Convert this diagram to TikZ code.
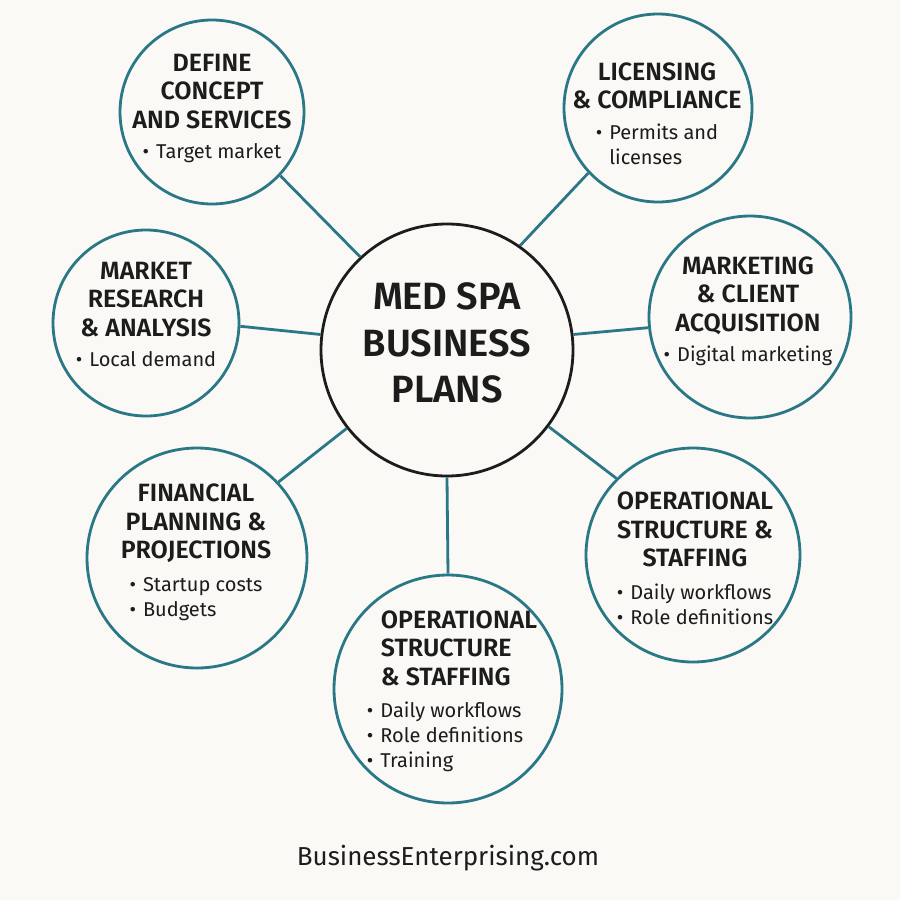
\documentclass[tikz,border=0pt]{standalone}
\usepackage{fontspec}
\setmainfont{Fira Sans}[BoldFont={Fira Sans SemiBold}]
\usetikzlibrary{positioning}

\definecolor{spateal}{HTML}{2A7886}
\definecolor{paper}{HTML}{FAF9F5}
\definecolor{ink}{HTML}{1C1C1C}

% bullet points under a heading
\newcommand{\pts}[1]{{\mdseries\fontsize{20}{25}\selectfont
  \begin{tabular}[t]{@{}l@{\hspace{7pt}}l@{}}#1\end{tabular}}}
\newcommand{\ind}{\hspace*{14pt}}

\begin{document}
\begin{tikzpicture}[x=1pt,y=-1pt,
  hub/.style={
    circle,
    draw=ink,
    line width=2.8pt,
    fill=paper,
    inner sep=0pt,
    minimum size=252pt
  },
  topic/.style={
    circle,
    draw=spateal,
    line width=2.8pt,
    fill=paper,
    inner sep=0pt
  },
  topictext/.style={
    align=center,
    text=ink,
    inner sep=0pt,
    font=\bfseries\fontsize{25}{28.5}\selectfont
  },
  link/.style={draw=spateal,line width=2.8pt}]
  \fill[paper] (0,0) rectangle (900,900);
  \useasboundingbox (0,0) rectangle (900,900);

  % centre
  \node [hub] (hub) at (447,350) {};
  \node [topictext,font=\bfseries\fontsize{38}{46.5}\selectfont] (hub-txt) at (447,343)
    {MED SPA\\BUSINESS\\PLANS};

  % topics
  \node [topic,minimum size=184pt] (define) at (212,112) {};
  \node [topic,minimum size=188pt] (licensing) at (658,108) {};
  \node [topic,minimum size=186pt] (market) at (146,323) {};
  \node [topic,minimum size=202pt] (marketing) at (750,317) {};
  \node [topic,minimum size=220pt] (financial) at (197,558) {};
  \node [topic,minimum size=214pt] (staffing) at (693,555) {};
  \node [topic,minimum size=228pt] (staffing2) at (448,689) {};

  \node [topictext] (define-txt) at (212,110)
    {DEFINE\\CONCEPT\\AND SERVICES\\[2pt]\pts{\textbullet & Target market}};
  \node [topictext] (licensing-txt) at (657,117)
    {LICENSING\\\& COMPLIANCE\\[2pt]\pts{\textbullet & Permits and\\ & licenses}};
  \node [topictext] (market-txt) at (146,318)
    {MARKET\\RESEARCH\\\& ANALYSIS\\[2pt]\pts{\textbullet & Local demand}};
  \node [topictext] (marketing-txt) at (748,313)
    {MARKETING\\\& CLIENT\\ACQUISITION\\[2pt]\pts{\textbullet & Digital marketing}};
  \node [topictext] (financial-txt) at (196,554)
    {FINANCIAL\\PLANNING \&\\PROJECTIONS\\[4pt]\pts{\textbullet & Startup costs\\ \textbullet & Budgets}};
  \node [topictext] (staffing-txt) at (695,562)
    {OPERATIONAL\\STRUCTURE \&\\STAFFING\\[4pt]\pts{\textbullet & Daily workflows\\ \textbullet & Role definitions}};
  \node [topictext,align=left] (staffing2-txt) at (452,693)
    {\ind OPERATIONAL\\\ind STRUCTURE\\\ind\& STAFFING\\[4pt]\pts{\textbullet & Daily workflows\\ \textbullet & Role definitions\\ \textbullet & Training}};

  % links
  \draw [link] (hub.133) -- (define.-43);
  \draw [link] (hub.55) -- (licensing.223);
  \draw [link] (hub.173) -- (market.-2);
  \draw [link] (hub.7) -- (marketing.186);
  \draw [link] (hub.218) -- (financial.43);
  \draw [link] (hub.-37) -- (staffing.135);
  \draw [link] (hub.south) -- (staffing2.north);

  \node [text=ink,font=\fontsize{26}{30}\selectfont] (site) at (448,858) {BusinessEnterprising.com};

\end{tikzpicture}
\end{document}
